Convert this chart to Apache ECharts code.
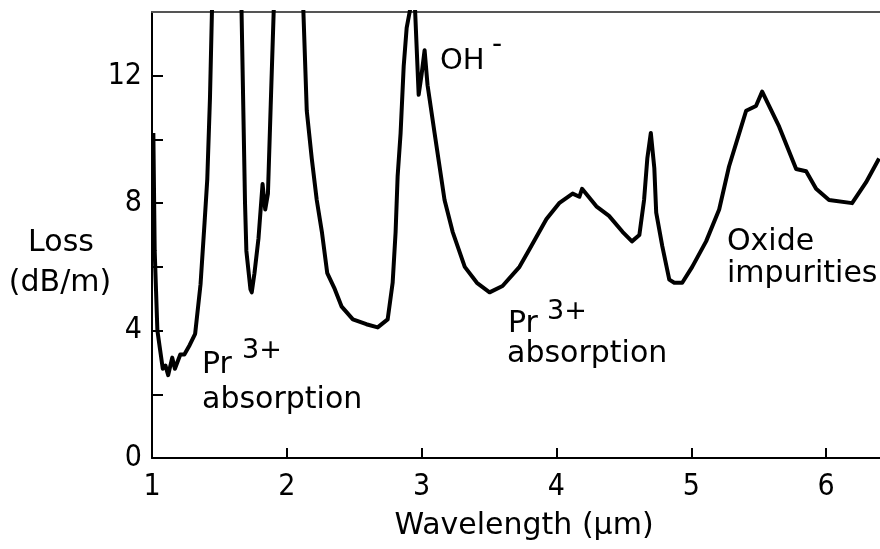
<!DOCTYPE html>
<html>
<head>
<meta charset="utf-8">
<script src="https://cdn.jsdelivr.net/npm/echarts@6/dist/echarts.min.js"></script>
<style>
  html, body { margin: 0; padding: 0; background: #fff; }
  #loss_chart { width: 880px; height: 549px; }
</style>
</head>
<body>
<div id="loss_chart"></div>
<script>
// wavelength (µm) and loss (dB/m); null = curve runs off the top
const wavelength = [
  1.01, 1.02, 1.04, 1.06, 1.08, 1.10, 1.12, 1.15, 1.17, 1.21, 1.24, 1.28, 1.32, 1.36, 1.39, 1.41, 1.43, 1.45,
  1.55,
  1.66, 1.69, 1.70, 1.73, 1.74, 1.76, 1.79, 1.82, 1.84, 1.86, 1.88, 1.91,
  2.0,
  2.115, 2.148, 2.185, 2.222, 2.26, 2.30, 2.356, 2.407, 2.49, 2.59, 2.674, 2.748, 2.785, 2.807, 2.822, 2.844,
  2.867, 2.889, 2.92, 2.95, 2.978, 3.0, 3.022, 3.044, 3.096, 3.133, 3.17, 3.23, 3.32, 3.41, 3.504, 3.60,
  3.726, 3.80, 3.926, 4.02, 4.12, 4.17, 4.19, 4.296, 4.39, 4.49, 4.56, 4.615, 4.65, 4.674, 4.70, 4.726,
  4.74, 4.785, 4.837, 4.874, 4.933, 5.007, 5.11, 5.207, 5.28, 5.356, 5.407, 5.48, 5.526, 5.652, 5.778,
  5.852, 5.926, 6.022, 6.193, 6.296, 6.393
]
const loss = [
  10.2, 6.5, 4.0, 3.4, 2.8, 2.9, 2.6, 3.15, 2.8, 3.25, 3.25, 3.55, 3.9, 5.45, 7.4, 8.75, 11.3, 15,
  null,
  15, 8.0, 6.5, 5.3, 5.2, 5.8, 6.9, 8.6, 7.8, 8.3, 11.0, 15,
  null,
  15, 10.9, 9.4, 8.1, 7.1, 5.8, 5.3, 4.75, 4.35, 4.2, 4.1, 4.35, 5.5, 7.1, 8.85, 10.2,
  12.3, 13.5, 14.2, 14.2, 11.4, 12.05, 12.8, 11.7, 10.2, 9.15, 8.1, 7.1, 6.0, 5.5, 5.2, 5.4,
  6.0, 6.55, 7.5, 8.0, 8.3, 8.2, 8.45, 7.9, 7.6, 7.1, 6.8, 7.0, 8.1, 9.4, 10.2, 9.1,
  7.7, 6.65, 5.6, 5.5, 5.5, 6.0, 6.8, 7.8, 9.15, 10.2, 10.9, 11.05, 11.5, 10.4, 9.07,
  9.0, 8.45, 8.1, 8.0, 8.65, 9.4
]
const xTicks = [1, 2, 3, 4, 5, 6]
const yTicks = [0, 4, 8, 12]
const yMinorTicks = [0, 2, 4, 6, 8, 10, 12]

const tickFont = '"Liberation Sans Narrow", "DejaVu Sans Condensed", sans-serif'
const textFont = '"DejaVu Sans", sans-serif'

const chart = echarts.init(document.getElementById('loss_chart'), null, { renderer: 'canvas' })

const seriesData = wavelength.map((w, i) => [w, loss[i] === null ? '-' : loss[i]])

const label = (text, x, y, size, align) => ({
  type: 'text',
  x: x,
  y: y,
  style: {
    text: text,
    fill: '#000',
    font: `${size}px ${textFont}`,
    textAlign: align || 'left',
    textVerticalAlign: 'middle'
  }
})

const option = {
  backgroundColor: '#fff',
  animation: false,
  grid: { left: 152, top: 12, width: 729, height: 446 },
  xAxis: [{
    type: 'value',
    min: 1,
    max: 6.4,
    interval: 1,
    axisLine: { lineStyle: { color: '#000', width: 2 } },
    axisTick: {
      inside: true, length: 10, customValues: xTicks.slice(1),
      lineStyle: { color: '#000', width: 2 }
    },
    axisLabel: {
      color: '#000',
      fontFamily: tickFont,
      fontSize: 30,
      margin: 14,
      customValues: xTicks
    },
    splitLine: { show: false }
  }, {
    // top frame line
    type: 'value',
    position: 'top',
    min: 1,
    max: 6.4,
    axisLine: { lineStyle: { color: '#555', width: 2 } },
    axisTick: { show: false },
    axisLabel: { show: false },
    splitLine: { show: false }
  }],
  yAxis: {
    type: 'value',
    min: 0,
    max: 14,
    interval: 2,
    axisLine: { show: true, lineStyle: { color: '#000', width: 2 } },
    axisTick: {
      inside: true, length: 11, customValues: yMinorTicks,
      lineStyle: { color: '#000', width: 2 }
    },
    axisLabel: {
      color: '#000',
      fontFamily: tickFont,
      fontSize: 30,
      margin: 10,
      customValues: yTicks
    },
    splitLine: { show: false }
  },
  series: [{
    type: 'line',
    xAxisIndex: 0,
    data: seriesData,
    showSymbol: false,
    connectNulls: false,
    clip: true,
    lineStyle: { color: '#000', width: 4, join: 'round' }
  }],
  graphic: [
    label('Loss', 61, 243, 30, 'center'),
    label('(dB/m)', 60, 283, 30, 'center'),
    label('Wavelength (µm)', 524, 526, 30, 'center'),
    label('OH', 440, 61, 29),
    label('-', 492, 46, 28),
    label('Pr', 202, 365, 30),
    label('3+', 242, 351, 27),
    label('absorption', 202, 400, 30),
    label('Pr', 508, 324, 30),
    label('3+', 547, 312, 27),
    label('absorption', 507, 354, 30),
    label('Oxide', 727, 242, 30),
    label('impurities', 727, 274, 30)
  ]
}

chart.setOption(option)
</script>
</body>
</html>
